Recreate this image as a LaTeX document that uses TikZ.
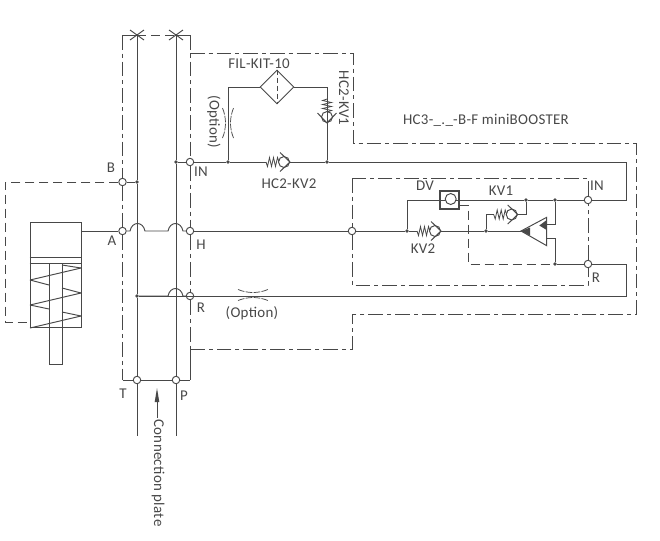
\documentclass[tikz,border=0pt]{standalone}
\usepackage{fontspec}
\setmainfont[LetterSpace=2]{Carlito}
\usetikzlibrary{shapes.geometric}
\definecolor{ink}{HTML}{484848}
\tikzset{
  pipe/.style={draw=ink,line width=0.72pt},
  pilot/.style={draw=ink,line width=0.72pt,dash pattern=on 7pt off 3.5pt},
  frame/.style={draw=ink,line width=0.72pt,dash pattern=on 11pt off 3pt on 3pt off 3pt},
  port/.style={circle,draw=ink,fill=white,line width=0.7pt,minimum size=5.6pt,inner sep=0pt},
  tee/.style={circle,fill=ink,minimum size=2.8pt,inner sep=0pt},
  lab/.style={inner sep=0.75pt,text=ink,font=\fontsize{11.2}{13}\selectfont},
  checkv/.pic={
    \coordinate (-in) at (-18,0);
    \coordinate (-out) at (6,0);
    \draw[draw=ink,line width=0.6pt] (-18,0) -- (-16.5,-4.5) -- (-14.5,4.5) -- (-12.5,-4.5) -- (-10.5,4.5) -- (-8.5,-4.5) -- (-6.5,4.5) -- (-5,0);
    \draw[draw=ink,line width=0.72pt,fill=white] (0,0) circle (5.5);
    \draw[draw=ink,line width=0.72pt] (-4,-9.5) -- (6,0) -- (-4,9.5);
  },
  throttle/.pic={
    \draw[draw=ink,line width=0.55pt,dash pattern=on 5pt off 1pt] (-15,-5.5) .. controls (-5,-1.5) and (5,-1.5) .. (15,-5.5);
    \draw[draw=ink,line width=0.55pt,dash pattern=on 5pt off 1pt] (-15,5.5) .. controls (-5,1.5) and (5,1.5) .. (15,5.5);
  },
}

\begin{document}
\begin{tikzpicture}[x=0.75pt,y=0.75pt,yscale=-1,xscale=1]
\useasboundingbox (0,0) rectangle (660,540);

%Ports
\node (portB) [port] at (122.5,182) {};
\node (portA) [port] at (122.5,231) {};
\node (portIN) [port] at (190,162) {};
\node (portH) [port] at (190,231) {};
\node (portR) [port] at (190,296) {};
\node (portT) [port] at (137,380) {};
\node (portP) [port] at (176,380) {};
\node (portH2) [port] at (352,231) {};
\node (portIN2) [port] at (588,200) {};
\node (portR2) [port] at (588,264) {};

%Tee points
\node (teeB) [tee] at (137,182) {};
\node (teeIN) [tee] at (176,162) {};
\node (teeR) [tee] at (137,296) {};
\node (teeF1) [tee] at (228,162) {};
\node (teeF2) [tee] at (327,162) {};
\node (teeDV) [tee] at (407,231) {};
\node (teeK1) [tee] at (486,231) {};
\node (teeI1) [tee] at (526,200) {};
\node (teeI2) [tee] at (555,200) {};
\node (teeR2) [tee] at (555,264) {};

%Corners
\coordinate (ftl) at (122.5,35);
\coordinate (xT) at (137,35);
\coordinate (xP) at (176,35);
\coordinate (ftr) at (190,35);
\coordinate (fbl) at (122.5,380);
\coordinate (fbr) at (190,380);
\coordinate (fa) at (190,53);
\coordinate (fb) at (353,53);
\coordinate (fc) at (353,143);
\coordinate (fd) at (636,143);
\coordinate (fe) at (636,314);
\coordinate (ff) at (352,314);
\coordinate (fg) at (352,349);
\coordinate (fh) at (190,349);
\coordinate (tend) at (137,436);
\coordinate (pend) at (176,436);
\coordinate (ia) at (626,162);
\coordinate (ib) at (626,200);
\coordinate (ra) at (626,296);
\coordinate (rb) at (626,264);

%Connection plate lines
\draw [pipe] (xT) -- (teeB) -- (teeR) -- (portT) -- (tend);
\draw [pipe] (xP) -- (teeIN) -- (portP) -- (pend);
\draw [pipe] (teeIN) -- (portIN);
\draw [pipe] (teeB) -- (portB);
\draw [pipe] (fbl) -- (portT) -- (portP) -- (fbr);
\draw [pipe] (xT) -- +(-7,-5) (xT) -- +(7,5) (xT) -- +(-7,5) (xT) -- +(7,-5);
\draw [pipe] (xP) -- +(-7,-5) (xP) -- +(7,5) (xP) -- +(-7,5) (xP) -- +(7,-5);

%Outer frame
\draw [pipe] (ftl) -- (xT) (xP) -- (ftr);
\draw [pilot] (xT) -- (xP);
\draw [frame] (ftl) -- (portB);
\draw [frame] (portB) -- (portA);
\draw [frame] (portA) -- (fbl);
\draw [frame] (ftr) -- (portIN);
\draw [frame] (portIN) -- (portH);
\draw [frame] (portH) -- (portR);
\draw [frame] (portR) -- (fh);
\draw [pipe] (fh) -- (fbr);
\draw [frame] (fa) -- (fb) -- (fc) -- (fd) -- (fe) -- (ff) -- (fg) -- (fh);

%Inner frame
\draw [frame] (352,178) -- (portH2);
\draw [frame] (portH2) -- (352,285) -- (588,285) -- (portR2);
\draw [frame] (portR2) -- (portIN2);
\draw [frame] (portIN2) -- (588,178) -- (352,178);

%Cylinder
\node (cyl) [rectangle,draw=ink,line width=0.72pt,minimum width=38.25pt,minimum height=79pt,inner sep=0pt] at (55.5,275) {};
\draw [pipe] (cyl.west |- 0,257) -- (cyl.east |- 0,257);
\draw [pipe] (cyl.west |- 0,263.5) -- (cyl.east |- 0,263.5);
\draw [pipe] (81,316) -- (62,312) (49,309) -- (30,305) (81,293) -- (62,288) (49,285) -- (30,280) (81,268) -- (62,265);
\node (rod) [rectangle,draw=ink,line width=0.72pt,minimum width=9.75pt,minimum height=76pt,inner sep=0pt] at (55.5,314) {};
\draw [pipe] (30,328) -- (81,316);
\draw [pipe] (30,305) -- (81,293);
\draw [pipe] (30,280) -- (81,268);
\coordinate (pl1) at (5,182);
\coordinate (pl2) at (5,322);
\draw [pilot] (portB) -- (pl1) -- (pl2) -- (cyl.west |- pl2);

%A and H line with bumps
\coordinate (bta) at (130,231);
\coordinate (btb) at (145,231);
\coordinate (bpa) at (168,231);
\coordinate (bpb) at (183,231);
\draw [pipe] (cyl.east |- portA) -- (portA);
\draw [pipe] (portA) -- (bta) .. controls +(2,-10) and +(-2,-10) .. (btb) -- (bpa) .. controls +(2,-10) and +(-2,-10) .. (bpb) -- (portH);
\coordinate (bra) at (168,296);
\coordinate (brb) at (183,296);
\draw [pipe] (teeR) -- (bra) .. controls +(2,-10) and +(-2,-10) .. (brb) -- (portR);

%IN line and filter
\node (fil) [diamond,draw=ink,line width=0.72pt,minimum size=25.5pt,inner sep=0pt] at (277,87) {};
\draw [draw=ink,line width=0.6pt,dash pattern=on 4pt off 2pt] (fil.north) -- (fil.south);
\coordinate (fl) at (228,87);
\coordinate (fr) at (327,87);
\pic (kvb) at (284,162) {checkv};
\pic (kvt) at (327,117) [rotate=-90] {checkv};
\draw [pipe] (teeF1) -- (fl) -- (fil.west);
\draw [pipe] (fil.east) -- (fr) -- (kvt-out);
\draw [pipe] (kvt-in) -- (teeF2);
\draw [pipe] (portIN) -- (teeF1) -- (kvb-in);
\draw [pipe] (kvb-out) -- (teeF2) -- (ia) -- (ib) -- (portIN2);
\pic at (228,123) [rotate=90] {throttle};

%H line through the block
\node (tri) [coordinate] at (521,231) {};
\pic (kv2) at (435,231) {checkv};
\pic (kv1) at (511.7,214.5) {checkv};
\draw [pipe] (portH) -- (portH2) -- (teeDV) -- (kv2-in);
\draw [pipe] (kv2-out) -- (teeK1) -- (tri);
\coordinate (k1a) at (486,214.5);
\coordinate (k1b) at (526,214.5);
\draw [pipe] (teeK1) -- (k1a) -- (kv1-in);
\draw [pipe] (kv1-out) -- (k1b) -- (teeI1);

%DV valve
\node (dv) [rectangle,draw=ink,line width=0.85pt,minimum width=14.25pt,minimum height=13.5pt,inner sep=0pt] at (449.5,200) {};
\coordinate (dva) at (407,200);
\coordinate (dvb) at (468,205);
\coordinate (dvc) at (468,264);
\draw [pipe] (teeDV) -- (dva) -- (dv.west);
\draw [pipe] (dv.west) -- (dv.east);
\draw [draw=ink,line width=0.72pt,fill=white] (450.7,199) circle (5.5);
\draw [pipe] (dv.east) -- (teeI1) -- (teeI2) -- (portIN2);
\draw [pilot] (dv.east |- dvb) -- (dvb) -- (dvc) -- (teeR2);
\draw [pipe] (teeR2) -- (portR2);
\draw [pipe] (portR2) -- (rb) -- (ra) -- (teeR);

%Main stage
\draw [pipe] (tri) -- (546.7,217.3) -- (546.7,245.7) -- cycle;
\fill [ink] (tri) -- (530,227.5) -- (530,235.5) -- cycle;
\fill [ink] (539.3,225.5) -- (546.7,220) -- (546.7,230) -- cycle;
\draw [pipe] (teeI2) -- (555,224.5) -- (546.7,224.5);
\draw [pipe] (teeR2) -- (555,238.5) -- (546.7,238.5);

%R line throttle
\pic at (253,295) {throttle};

%Arrow
\coordinate (arr) at (157,418);
\draw [pipe,line width=0.6pt] (arr) -- (157,396);
\fill [ink] (157,388) -- (154.7,402) -- (159.3,402) -- cycle;

% Text Node
\node (labfil) [lab] at (259,64) {FIL-KIT-10};
\node (labkv1) [lab,rotate=-90] at (344,98) {HC2-KV1};
\node (labopt) [lab,rotate=-90] at (214,122) {(Option)};
\node (labkv2) [lab] at (289,184) {HC2-KV2};
\node (labtitle) [lab] at (486,120) {HC3-\_.\_-B-F miniBOOSTER};
\node (labin) [lab] at (201,172) {IN};
\node (labb) [lab] at (111,168) {B};
\node (laba) [lab] at (112,241) {A};
\node (labh) [lab] at (201,245) {H};
\node (labr) [lab] at (201,308) {R};
\node (labt) [lab] at (123,394) {T};
\node (labp) [lab] at (184,396) {P};
\node (labdv) [lab] at (425,186) {DV};
\node (labk1) [lab] at (501,191) {KV1};
\node (labk2) [lab] at (423,249) {KV2};
\node (labi2) [lab] at (597,186) {IN};
\node (labr2) [lab] at (596,278) {R};
\node (labo2) [lab] at (252,313) {(Option)};
\node (labcp) [lab,rotate=-90] at (158,473) {Connection plate};

\end{tikzpicture}
\end{document}
